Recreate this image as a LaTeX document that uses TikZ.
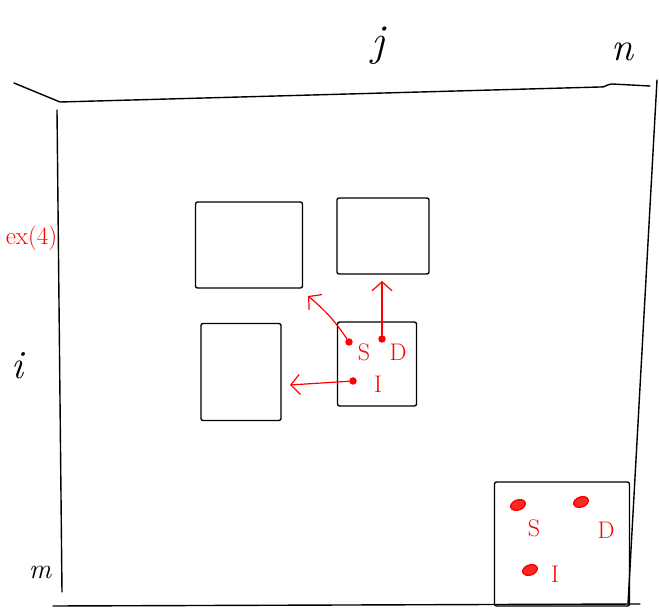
\documentclass[tikz,border=0pt]{standalone}
\usepackage{fontspec}
\usetikzlibrary{arrows.meta,calc,shapes.geometric}

\begin{document}
\begin{tikzpicture}[x=1pt,y=-1pt, >={Straight Barb[length=9pt,width=20pt]},
  line width=1.4pt, line cap=round, line join=round,
  cell/.style={draw,line width=1.4pt,inner sep=0pt,rounded corners=2pt},
  dot/.style={circle,fill=red,draw=red,inner sep=0pt,minimum size=6pt},
  blob/.style={ellipse,fill=red!85,draw=red,inner sep=0pt,minimum width=15pt,minimum height=10pt,rotate=20},
  op/.style={draw=red,->,line width=1.2pt}, lbl/.style={text=red,font=\fontsize{24}{24}\selectfont}]
  \useasboundingbox (0,0) rectangle (659,609);
  % table frame
  \coordinate(tl) at (60,102); \coordinate(tr) at (600,87);
  \draw (14,83)--(tl) (tl)--(tr) to[out=-10,in=180] (612,84)--(650,86);
  \draw (57,110)--(62,592);
  \draw (657,80)--(628,604);
  \draw (53,606)--(640,604);
  \node[font=\fontsize{44}{44}\selectfont\itshape] (jj) at (378,46){j};
  \node[font=\fontsize{40}{40}\selectfont\itshape] (nn) at (622,52){n};
  \node[font=\fontsize{40}{40}\selectfont\itshape] (ii) at (18,366){i};
  \node[font=\fontsize{28}{28}\selectfont\itshape] (mm) at (40,572){m};
  \node[text=red,font=\fontsize{25}{25}\selectfont,anchor=east,inner sep=0pt] (ex) at (58,238){ex(4)};
  % neighbour cells
  \node[cell,minimum width=107pt,minimum height=86pt](diag) at (249,245){};
  \node[cell,minimum width=92pt,minimum height=76pt](up) at (383,236){};
  \node[cell,minimum width=80pt,minimum height=97pt](left) at (241,372){};
  \node[cell,minimum width=79pt,minimum height=84pt](cur) at (377,364){};
  \node[cell,minimum width=135pt,minimum height=124pt](last) at (562,544){};
  % operations in cell (i,j)
  \node[dot](sS) at (349,342){}; \node[lbl](lS) at (364,352){S};
  \node[dot](sD) at (382,339){}; \node[lbl](lD) at (398,352){D};
  \node[dot](sI) at (353,381){}; \node[lbl](lI) at (378,384){I};
  \coordinate(tS) at (308,296); \coordinate(tD) at (382,281); \coordinate(tI) at (290,385);
  \draw[op](sS) to[bend right=8] (tS);
  \draw[op](sD)--(tD);
  \draw[op](sI)--(tI);
  % final cell
  \node[blob](bS) at (518,505){}; \node[lbl](mS) at (534,528){S};
  \node[blob](bD) at (581,502){}; \node[lbl](mD) at (606,530){D};
  \node[blob](bI) at (530,570){}; \node[lbl](mI) at (555,574){I};
\end{tikzpicture}
\end{document}
